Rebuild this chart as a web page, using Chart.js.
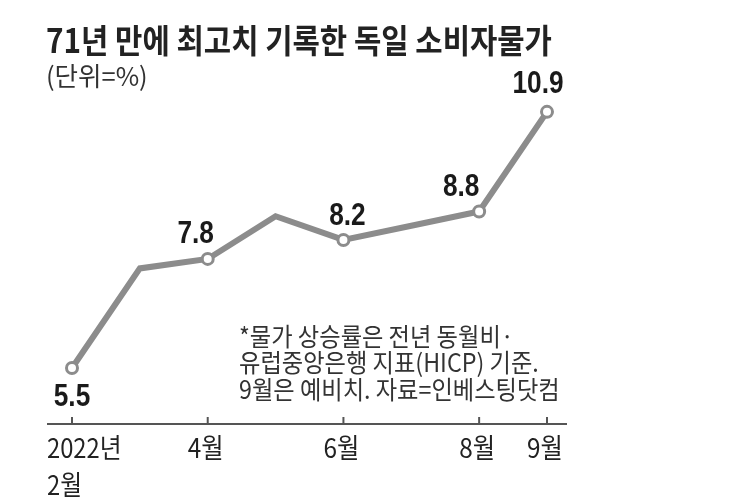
<!DOCTYPE html>
<html>
<head>
<meta charset="utf-8">
<script src="https://cdn.jsdelivr.net/npm/chart.js@4"></script>
<style>
  html, body { margin: 0; padding: 0; background: #fff; }
  #wrap { width: 743px; height: 500px; position: relative; }
</style>
</head>
<body>
<div id="wrap"><canvas id="cpiChart"></canvas></div>
<script>
// 독일 소비자물가 상승률 (전년 동월비, %)
const months = ['2022년 2월', '3월', '4월', '5월', '6월', '7월', '8월', '9월'];
const cpi = [5.5, 7.6, 7.8, 8.7, 8.2, 8.5, 8.8, 10.9];
const tickLabels = [['2022년', '2월'], '', '4월', '', '6월', '', '8월', '9월'];

const titleText = '71년 만에 최고치 기록한 독일 소비자물가';
const unitText = '(단위=%)';
const noteLines = [
  '*물가 상승률은 전년 동월비·',
  '유럽중앙은행 지표(HICP) 기준.',
  '9월은 예비치. 자료=인베스팅닷컴'
];

const shown = tickLabels.map(t => t !== '');
const KR = '"Noto Sans CJK KR", sans-serif';

function drawText(ctx, s, x, y, font, align, sx, color) {
  ctx.save();
  ctx.font = font;
  ctx.fillStyle = color || '#222';
  ctx.textAlign = align;
  ctx.textBaseline = 'middle';
  ctx.translate(x, y);
  ctx.scale(sx, 1);
  ctx.fillText(s, 0, 0);
  ctx.restore();
}

// 제목, 주석, x축, 값 라벨
const decor = {
  id: 'decor',
  afterDraw(chart) {
    const ctx = chart.ctx;
    const xs = chart.scales.x, ys = chart.scales.y;
    const area = chart.chartArea;

    drawText(ctx, titleText, 46, 40, 'bold 33px ' + KR, 'left', 0.9, '#222');
    drawText(ctx, unitText, 46, 76, '26px ' + KR, 'left', 0.98, '#333');

    noteLines.forEach((l, i) => {
      drawText(ctx, l, 239, 336 + i * 26.5, '25px ' + KR, 'left', 0.93, '#333');
    });

    // 축선
    const y0 = area.bottom;
    ctx.save();
    ctx.strokeStyle = '#555';
    ctx.lineWidth = 2;
    ctx.beginPath();
    ctx.moveTo(area.left - 25, y0);
    ctx.lineTo(area.right + 20, y0);
    ctx.stroke();
    tickLabels.forEach((t, i) => {
      if (!t) return;
      const x = xs.getPixelForValue(i);
      ctx.beginPath();
      ctx.moveTo(x, y0 - 7);
      ctx.lineTo(x, y0);
      ctx.stroke();
    });
    ctx.restore();

    tickLabels.forEach((t, i) => {
      if (!t) return;
      const x = xs.getPixelForValue(i);
      if (Array.isArray(t)) {
        t.forEach((line, j) => drawText(ctx, line, x - 25, 448 + j * 37, '27px ' + KR, 'left', 0.88, '#222'));
      } else {
        drawText(ctx, t, x - 2, 448, '27px ' + KR, 'center', 0.9, '#222');
      }
    });

    // 값 라벨
    const nudge = [[0, 29], null, [-12, -25], null, [4, -24], null, [-18, -24], [-9, -28]];
    cpi.forEach((v, i) => {
      if (!shown[i]) return;
      const x = xs.getPixelForValue(i);
      const y = ys.getPixelForValue(v);
      drawText(ctx, v.toFixed(1), x + nudge[i][0], y + nudge[i][1], 'bold 32px "Liberation Sans", sans-serif', 'center', 0.82, '#1a1a1a');
    });
  }
};

new Chart(document.getElementById('cpiChart'), {
  type: 'line',
  data: {
    labels: months,
    datasets: [
      {
        label: '독일 소비자물가 상승률',
        data: cpi,
        borderColor: '#8c8c8c',
        borderWidth: 6,
        tension: 0,
        borderJoinStyle: 'miter',
        pointRadius: shown.map(s => (s ? 5.5 : 0)),
        pointBackgroundColor: '#fff',
        pointBorderColor: '#8c8c8c',
        pointBorderWidth: 3,
        clip: false,
      },
    ],
  },
  options: {
    responsive: true,
    maintainAspectRatio: false,
    animation: false,
    layout: { padding: { left: 72, right: 196, top: 100, bottom: 76 } },
    plugins: { legend: { display: false }, tooltip: { enabled: false } },
    scales: {
      x: { display: false, offset: false },
      y: { display: false, min: 4.32, max: 11.15 },
    },
  },
  plugins: [decor],
});
</script>
</body>
</html>
